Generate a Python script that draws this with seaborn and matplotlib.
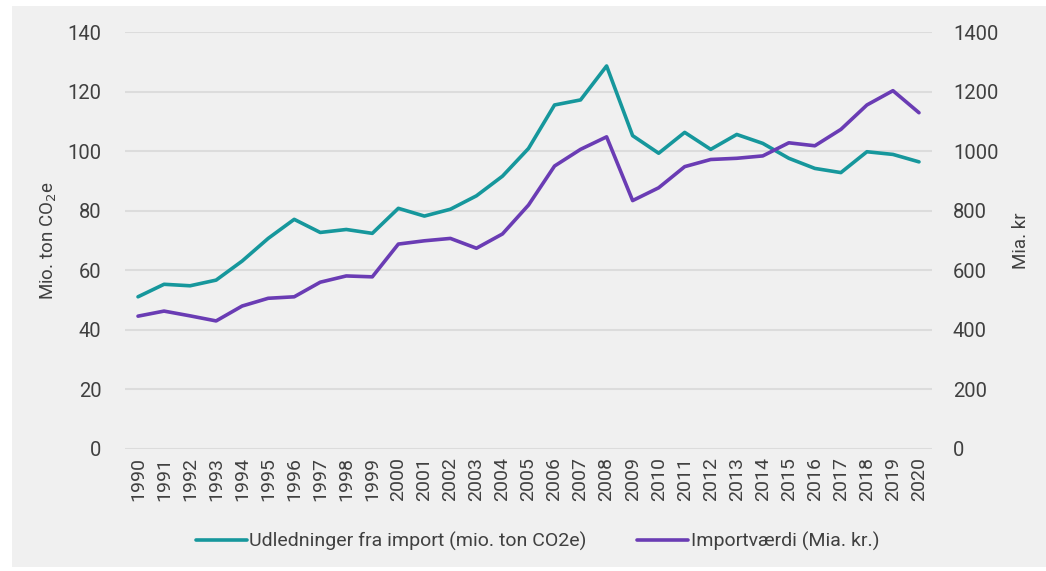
import numpy as np
import pandas as pd
import matplotlib
matplotlib.use("Agg")
import matplotlib.pyplot as plt
import seaborn as sns
from matplotlib.patches import Rectangle

years = list(range(1990, 2021))
udledninger = [51.1, 55.3, 54.8, 56.7, 63.1, 70.7, 77.1, 72.7, 73.7, 72.4,
               80.8, 78.2, 80.5, 85.0, 91.6, 100.9, 115.5, 117.2, 128.6, 105.2,
               99.3, 106.3, 100.6, 105.6, 102.6, 97.6, 94.2, 92.8, 99.8, 98.9, 96.4]
importvaerdi = [446, 463, 447, 430, 480, 506, 511, 560, 581, 578,
                688, 699, 707, 674, 722, 819, 950, 1006, 1048, 834,
                877, 948, 972, 976, 984, 1028, 1018, 1073, 1155, 1203, 1129]
left_ticks = [0, 20, 40, 60, 80, 100, 120, 140]
right_ticks = [0, 200, 400, 600, 800, 1000, 1200, 1400]

teal = "#16979c"
purple = "#6a3cb4"
txt = "#404040"

sns.set_style("white")
plt.rcParams["font.family"] = ["Roboto", "DejaVu Sans"]

df = pd.DataFrame({"year": years, "udl": udledninger, "imp": importvaerdi})

fig = plt.figure(figsize=(10.46, 5.71), dpi=100, facecolor="white")
fig.patches.append(Rectangle((12 / 1046, 1 - 567 / 571), 1 - 12 / 1046, 561 / 571,
                             transform=fig.transFigure, facecolor="#f0f0f0",
                             edgecolor="none", zorder=-10))
ax = fig.add_axes([125 / 1046, 1 - 449 / 571, (932 - 125) / 1046, 417 / 571])
ax.set_facecolor("none")
ax2 = ax.twinx()

sns.lineplot(data=df, x="year", y="udl", ax=ax, color=teal, linewidth=2.6,
             label="Udledninger fra import (mio. ton CO2e)", legend=False)
sns.lineplot(data=df, x="year", y="imp", ax=ax2, color=purple, linewidth=2.6,
             label="Importværdi (Mia. kr.)", legend=False)

ax.set_ylim(0, 140)
ax2.set_ylim(0, 1400)
ax.set_xlim(1989.5, 2020.5)
ax.set_yticks(left_ticks)
ax2.set_yticks(right_ticks)
ax.set_xticks(years)
ax.set_xticklabels([str(y) for y in years], rotation=90)
ax.grid(axis="y", color="#dcdcdc", linewidth=1.5)
ax.set_axisbelow(True)
for a in (ax, ax2):
    for s in a.spines.values():
        s.set_visible(False)
    a.tick_params(length=0, labelsize=14.5, colors=txt)
ax.tick_params(axis="x", labelsize=14, pad=6)
ax.tick_params(axis="y", pad=17)
ax2.tick_params(axis="y", pad=15)

ax.set_xlabel("")
ax.set_ylabel("Mio. ton CO$_2$e", fontsize=13.5, color=txt, labelpad=6)
ax2.set_ylabel("Mia. kr", fontsize=13.5, color=txt, labelpad=10)

h1, l1 = ax.get_legend_handles_labels()
h2, l2 = ax2.get_legend_handles_labels()
fig.legend(h1 + h2, l1 + l2, loc="center", bbox_to_anchor=(0.514, 1 - 541 / 571),
           ncol=2, frameon=False, fontsize=14, labelcolor=txt,
           handlelength=2.6, columnspacing=2.6, handletextpad=0.15)

fig.savefig("out.png", dpi=100, facecolor=fig.get_facecolor())
